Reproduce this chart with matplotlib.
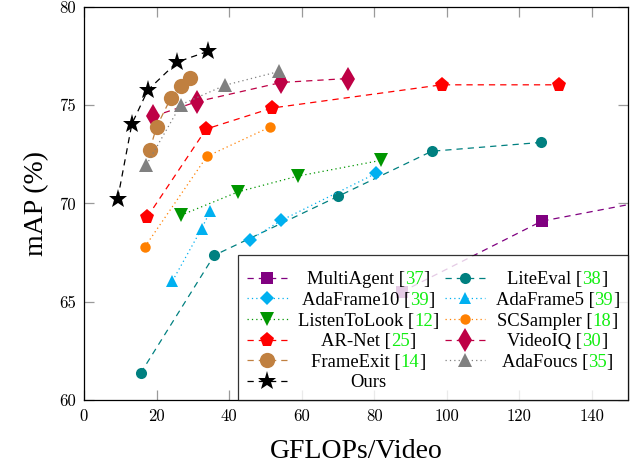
import matplotlib
matplotlib.use("Agg")
import matplotlib.pyplot as plt
from matplotlib.offsetbox import TextArea, HPacker, VPacker

# ---------------- data ----------------
multiagent_x = [87.6, 126.2, 180.0]
multiagent_y = [65.5, 69.1, 71.0]

liteeval_x = [15.6, 35.9, 70.0, 95.9, 126.1]
liteeval_y = [61.36, 67.36, 70.36, 72.66, 73.11]

adaframe10_x = [45.8, 54.4, 80.6]
adaframe10_y = [68.16, 69.14, 71.54]

adaframe5_x = [24.4, 32.4, 34.8]
adaframe5_y = [66.06, 68.71, 69.61]

listen_x = [26.7, 42.6, 59.1, 82.0]
listen_y = [69.4, 70.6, 71.4, 72.2]

scsampler_x = [16.8, 33.9, 51.4]
scsampler_y = [67.8, 72.4, 73.9]

arnet_x = [17.4, 33.7, 51.9, 98.6, 131.1]
arnet_y = [69.3, 73.79, 74.86, 76.04, 76.04]

videoiq_x = [19.1, 31.1, 54.4, 72.7]
videoiq_y = [74.43, 75.18, 76.16, 76.36]

frameexit_x = [18.1, 20.0, 23.9, 26.7, 29.3]
frameexit_y = [72.7, 73.9, 75.35, 76.0, 76.4]

adafocus_x = [17.2, 26.7, 38.9, 53.8]
adafocus_y = [71.96, 75.03, 76.02, 76.72]

ours_x = [9.3, 13.2, 17.6, 25.7, 34.3]
ours_y = [70.25, 74.05, 75.77, 77.2, 77.75]

names = ["MultiAgent", "LiteEval", "AdaFrame10", "AdaFrame5", "ListenToLook",
         "SCSampler", "AR-Net", "VideoIQ", "FrameExit", "AdaFoucs", "Ours"]
refs = ["37", "38", "39", "39", "12", "18", "25", "30", "14", "35", ""]

xticks = [0, 20, 40, 60, 80, 100, 120, 140]
yticks = [60, 65, 70, 75, 80]

# ---------------- style ----------------
TEXT_FONT = ["Liberation Serif", "DejaVu Serif"]
TICK_FONT = "cmr10"
GREEN = "#11EE11"
LEG_FS = 13.4

fig = plt.figure(figsize=(6.32, 4.65), dpi=100)
ax = fig.add_axes([84 / 632, 65 / 465, 544 / 632, 393 / 465])

series = {
    "MultiAgent": (multiagent_x, multiagent_y, dict(color="#800080", marker="s", ms=8, ls=(0, (5, 4)))),
    "LiteEval": (liteeval_x, liteeval_y, dict(color="#008080", marker="o", ms=8, ls=(0, (5, 4)))),
    "AdaFrame10": (adaframe10_x, adaframe10_y, dict(color="#00B0F0", marker="D", ms=7.5, ls=(0, (1, 2.5)))),
    "AdaFrame5": (adaframe5_x, adaframe5_y, dict(color="#00B0F0", marker="^", ms=9, ls=(0, (1, 2.5)))),
    "ListenToLook": (listen_x, listen_y, dict(color="#009600", marker="v", ms=10, ls=(0, (1, 2.5)))),
    "SCSampler": (scsampler_x, scsampler_y, dict(color="#FF8000", marker="o", ms=7.5, ls=(0, (1, 2.5)))),
    "AR-Net": (arnet_x, arnet_y, dict(color="#FF0000", marker="p", ms=11, ls=(0, (5, 4)))),
    "VideoIQ": (videoiq_x, videoiq_y, dict(color="#BE0045", marker="d", ms=12, ls=(0, (5, 4)))),
    "FrameExit": (frameexit_x, frameexit_y, dict(color="#C08040", marker="o", ms=11, ls=(0, (5, 4)))),
    "AdaFoucs": (adafocus_x, adafocus_y, dict(color="#808080", marker="^", ms=9.5, ls=(0, (1, 2.5)))),
    "Ours": (ours_x, ours_y, dict(color="#000000", marker="*", ms=14, ls=(0, (5, 4)))),
}

handles = {}
for i, name in enumerate(names):
    xs, ys, st = series[name]
    (h,) = ax.plot(xs, ys, color=st["color"], linestyle=st["ls"], linewidth=0.9,
                   marker=st["marker"], markersize=st["ms"], markeredgewidth=0,
                   markerfacecolor=st["color"], zorder=3 + i)
    handles[name] = h

ax.set_xlim(0, 150)
ax.set_ylim(60, 80)
ax.set_xticks(xticks)
ax.set_xticklabels([str(t) for t in xticks], fontfamily=TICK_FONT, fontsize=12)
ax.set_yticks(yticks)
ax.set_yticklabels([str(t) for t in yticks], fontfamily=TICK_FONT, fontsize=12)
ax.tick_params(direction="in", top=True, right=True, length=7, width=0.9,
               color="#9a9a9a", pad=6, labelcolor="black")
for sp in ax.spines.values():
    sp.set_linewidth(0.9)
    sp.set_color("black")

ax.set_xlabel("GFLOPs/Video", fontfamily=TEXT_FONT, fontsize=20, labelpad=11)
ax.set_ylabel("mAP (%)", fontfamily=TEXT_FONT, fontsize=20, labelpad=7)

# legend: column-major order matching the two-column layout
col1 = ["MultiAgent", "AdaFrame10", "ListenToLook", "AR-Net", "FrameExit", "Ours"]
col2 = ["LiteEval", "AdaFrame5", "SCSampler", "VideoIQ", "AdaFoucs"]
order = col1 + col2
leg = ax.legend([handles[n] for n in order], order, loc="lower right", ncol=2,
                numpoints=1, fancybox=False, framealpha=0.8, edgecolor="black",
                borderaxespad=0.0, prop={"family": TEXT_FONT, "size": LEG_FS},
                handlelength=2.2, handletextpad=0.54, columnspacing=0.3,
                labelspacing=0.19, borderpad=0.47, title=" ", title_fontsize=2.5)
leg.get_frame().set_linewidth(0.9)
leg.set_zorder(20)

ref_of = dict(zip(names, refs))
tp = dict(fontfamily=TEXT_FONT, fontsize=LEG_FS, va="baseline", ha="left")
wrappers = []
columns = leg._legend_handle_box.get_children()
for col, col_names in zip(columns, [col1, col2]):
    col_wr = []
    for row, nm in zip(col.get_children(), col_names):
        r = ref_of[nm]
        if r:
            parts = [TextArea(nm + " [", textprops=dict(tp, color="black")),
                     TextArea(r, textprops=dict(tp, color=GREEN)),
                     TextArea("]", textprops=dict(tp, color="black"))]
        else:
            parts = [TextArea(nm, textprops=dict(tp, color="black"))]
        hp = HPacker(children=parts, pad=0, sep=0, align="baseline")
        wr = VPacker(children=[hp], pad=0, sep=0, align="center")
        wr.set_figure(fig)
        row._children[1] = wr
        col_wr.append((wr, hp))
    wrappers.append(col_wr)

fig.canvas.draw()
renderer = fig.canvas.get_renderer()
for col_wr in wrappers:
    mw = max(hp.get_bbox(renderer).width for _, hp in col_wr)
    for wr, _ in col_wr:
        wr.width = mw

fig.savefig("out.png", dpi=100)
